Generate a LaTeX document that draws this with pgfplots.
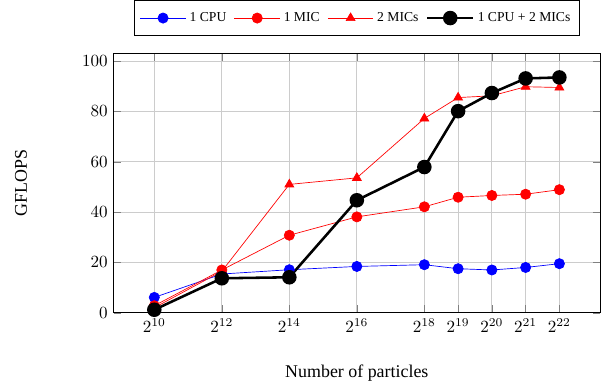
\documentclass[border=0pt]{standalone}
\usepackage{fontspec}
\setmainfont{Liberation Serif}
\usepackage{pgfplots}
\pgfplotsset{compat=1.18}
\begin{document}
\begin{tikzpicture}
\begin{axis}[
  scale only axis,
  width=285pt, height=152pt,
  xmin=8.8, xmax=23.2,
  ymin=0, ymax=103,
  xtick={10,12,14,16,18,19,20,21,22},
  xticklabels={$2^{10}$,$2^{12}$,$2^{14}$,$2^{16}$,$2^{18}$,$2^{19}$,$2^{20}$,$2^{21}$,$2^{22}$},
  ytick={0,20,40,60,80,100},
  grid=major,
  major grid style={gray!40, line width=0.5pt},
  xlabel={\fontsize{10.5}{12}\selectfont Number of particles},
  ylabel={\fontsize{10.5}{12}\selectfont GFLOPS},
  ylabel style={yshift=20pt, inner ysep=8.8pt},
  xlabel style={yshift=-12pt},
  legend columns=4,
  legend image code/.code={\draw[mark repeat=2,mark phase=2] plot coordinates {(0cm,0cm) (0.47cm,0cm) (0.94cm,0cm)};},
  legend style={at={(0.5,1.067)}, anchor=south, font=\fontsize{8}{9.5}\selectfont,
    inner ysep=5pt,
    /tikz/every even column/.append style={column sep=2.5pt}},
  after end axis/.code={\path (rel axis cs:1,0) ++(3pt,0);},
]
\addplot[blue, thin, mark=*, mark size=3pt] coordinates {
(10,6.1) (12,15.4) (14,17.1) (16,18.4) (18,19.1) (19,17.5) (20,17.0) (21,18.0) (22,19.5)};
\addlegendentry{1 CPU}
\addplot[red, thin, mark=*, mark size=3pt] coordinates {
(10,2.8) (12,17.0) (14,30.8) (16,38.1) (18,42.1) (19,45.9) (20,46.6) (21,47.1) (22,48.9)};
\addlegendentry{1 MIC}
\addplot[red, thin, mark=triangle*, mark size=3pt] coordinates {
(10,2.0) (12,16.5) (14,51.0) (16,53.6) (18,77.2) (19,85.5) (20,86.2) (21,89.8) (22,89.5)};
\addlegendentry{2 MICs}
\addplot[black, line width=1.5pt, mark=*, mark size=3.5pt] coordinates {
(10,1.2) (12,13.7) (14,14.1) (16,44.7) (18,57.9) (19,80.1) (20,87.3) (21,93.1) (22,93.5)};
\addlegendentry{1 CPU + 2 MICs}
\end{axis}
\end{tikzpicture}
\end{document}
